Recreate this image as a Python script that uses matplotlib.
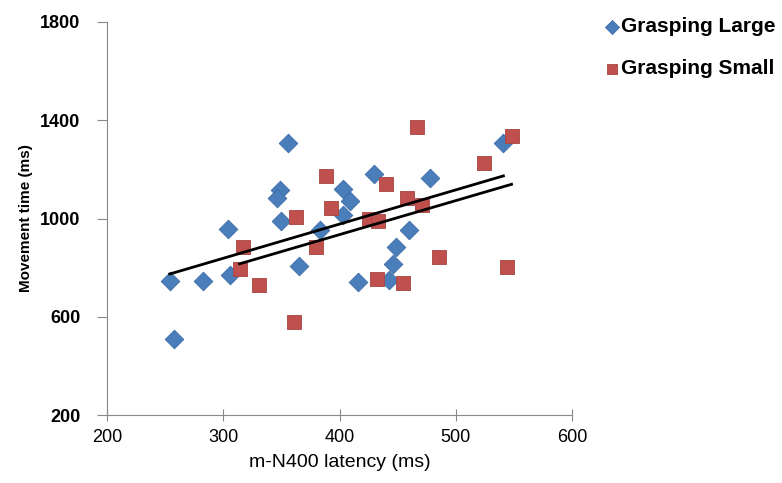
import matplotlib

matplotlib.use("Agg")
import matplotlib.pyplot as plt
import numpy as np

plt.rcParams["font.family"] = ["Liberation Sans", "DejaVu Sans"]

# ── Data ──
large_x = [254, 258, 283, 306, 304, 356, 349, 346, 350, 365, 383,
           403, 409, 403, 416, 430, 478, 541, 460, 449, 446, 443]
large_y = [744, 509, 744, 768, 959, 1309, 1114, 1085, 988, 805, 955,
           1122, 1073, 1016, 740, 1183, 1166, 1309, 955, 882, 813, 748]

small_x = [388, 393, 363, 317, 314, 331, 361, 380, 467, 548, 524,
           440, 458, 471, 425, 433, 486, 544, 432, 455]
small_y = [1171, 1041, 1008, 882, 793, 728, 578, 882, 1374, 1337, 1227,
           1142, 1085, 1053, 1000, 990, 842, 801, 752, 736]

x_ticks = [200, 300, 400, 500, 600]
y_ticks = [200, 600, 1000, 1400, 1800]

BLUE = "#4a7ebb"
RED = "#c0504d"

fig = plt.figure(figsize=(7.82, 4.83), dpi=100)
ax = fig.add_axes([107 / 782, 1 - 415 / 483, 465 / 782, 393 / 483])

ax.scatter(large_x, large_y, marker="D", s=90, color=BLUE,
           edgecolors="#3a6aa5", linewidths=0.6, label="Grasping Large", zorder=3)
ax.scatter(small_x, small_y, marker="s", s=110, color=RED,
           edgecolors="#a84340", linewidths=0.6, label="Grasping Small", zorder=3)

# Linear trend lines for each condition
for xs, ys in [(large_x, large_y), (small_x, small_y)]:
    xs = np.array(xs)
    m, b = np.polyfit(xs, ys, 1)
    xx = np.array([xs.min(), xs.max()])
    ax.plot(xx, m * xx + b, color="black", lw=2, zorder=4)

ax.set_xlim(200, 600)
ax.set_ylim(200, 1800)
ax.set_xticks(x_ticks)
ax.set_yticks(y_ticks)
for s in ["top", "right"]:
    ax.spines[s].set_visible(False)
for s in ["left", "bottom"]:
    ax.spines[s].set_color("#888888")
ax.tick_params(axis="y", color="#888888", length=7, labelsize=13, pad=12)
ax.tick_params(axis="x", color="#888888", direction="inout", length=8,
               labelsize=13, pad=6)
for lbl in ax.get_yticklabels():
    lbl.set_fontweight("bold")

ax.set_xlabel("m-N400 latency (ms)", fontsize=14, labelpad=6)
ax.set_ylabel("Movement time (ms)", fontsize=11, fontweight="bold", labelpad=5)

ax.legend(loc="upper left", bbox_to_anchor=(1.025, 1.06), frameon=False,
          prop={"weight": "bold", "size": 15}, handletextpad=0.0,
          handlelength=0.9, labelspacing=1.1, markerscale=0.75)

fig.savefig("out.png", dpi=100)
